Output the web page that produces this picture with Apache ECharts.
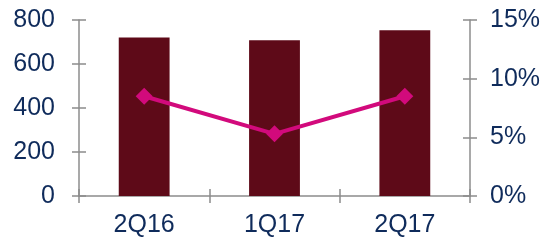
<!DOCTYPE html>
<html>
<head>
<meta charset="utf-8">
<script src="https://cdn.jsdelivr.net/npm/echarts@6/dist/echarts.min.js"></script>
<style>
    html,body{margin:0;padding:0;background:#fff;}
    #chart{width:548px;height:241px;}
</style>
</head>
<body>
<div id="chart"></div>
<script>
    var categories = ['2Q16', '1Q17', '2Q17'];
    var barValues = [721, 708, 753];
    var ratioValues = [8.5, 5.3, 8.5];

    var textColor = '#0F2B5B';
    var axisColor = '#8C8C8C';
    var font = 'Liberation Sans, Arial, sans-serif';

    var myChart = echarts.init(document.getElementById('chart'));

    // 刻度两侧都要，所以每个轴画两次（一次朝外，一次朝内）
    function yAx(pos, labels, inside, max, interval, fmt) {
        return {
            type: 'value',
            position: pos,
            min: 0,
            max: max,
            interval: interval,
            axisLine: {show: !inside, lineStyle: {color: axisColor, width: 1.5}},
            axisTick: {show: true, inside: inside, length: 7, lineStyle: {color: axisColor, width: 1.5}},
            axisLabel: {
                show: labels,
                color: textColor,
                fontSize: 25,
                fontFamily: font,
                margin: pos === 'left' ? 24 : 20,
                formatter: fmt
            },
            splitLine: {show: false}
        };
    }

    function xAx(inside) {
        return {
            type: 'category',
            data: categories,
            position: 'bottom',
            axisLine: {show: !inside, lineStyle: {color: axisColor, width: 1.5}},
            axisTick: {show: true, inside: inside, length: 7, lineStyle: {color: axisColor, width: 1.5}},
            axisLabel: {
                show: !inside,
                color: textColor,
                fontSize: 25,
                fontFamily: font,
                margin: 17
            }
        };
    }

    var option = {
        animation: false,
        grid: {left: 79, right: 78, top: 20, bottom: 45},
        xAxis: [xAx(false), xAx(true)],
        yAxis: [
            yAx('left', true, false, 800, 200, '{value}'),
            yAx('right', true, false, 15, 5, '{value}%'),
            yAx('left', false, true, 800, 200, '{value}'),
            yAx('right', false, true, 15, 5, '{value}%')
        ],
        series: [
            {
                type: 'bar',
                data: barValues,
                xAxisIndex: 0,
                yAxisIndex: 0,
                barWidth: '39%',
                itemStyle: {color: '#5E0A18'}
            },
            {
                type: 'line',
                data: ratioValues,
                xAxisIndex: 0,
                yAxisIndex: 1,
                symbol: 'diamond',
                symbolSize: 17,
                lineStyle: {color: '#D20A7C', width: 4},
                itemStyle: {color: '#D20A7C'}
            }
        ]
    };
    myChart.setOption(option, true);
</script>
</body>
</html>
